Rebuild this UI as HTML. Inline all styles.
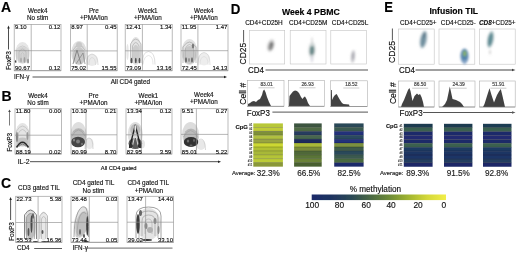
<!DOCTYPE html>
<html><head><meta charset="utf-8"><style>
html,body{margin:0;padding:0;background:#fff;width:520px;height:255px;overflow:hidden}
svg{display:block}
svg text{font-family:"Liberation Sans", sans-serif;stroke:#222;stroke-width:0.15px;paint-order:stroke}
</style></head><body>
<svg width="520" height="255" viewBox="0 0 520 255">
<rect width="520" height="255" fill="#fff"/>
<defs><filter id="gb" x="0" y="0" width="100%" height="100%"><feGaussianBlur stdDeviation="0.35"/></filter></defs><g filter="url(#gb)"><defs><filter id="bl" x="-50%" y="-50%" width="200%" height="200%"><feGaussianBlur stdDeviation="0.45"/></filter><filter id="bl2" x="-50%" y="-50%" width="200%" height="200%"><feGaussianBlur stdDeviation="0.9"/></filter><linearGradient id="cbar" x1="0" x2="1" y1="0" y2="0"><stop offset="0" stop-color="#1c2a6a"/><stop offset="0.15" stop-color="#1f3460"/><stop offset="0.3" stop-color="#2c4a55"/><stop offset="0.45" stop-color="#4d6b42"/><stop offset="0.58" stop-color="#6e8c38"/><stop offset="0.72" stop-color="#a0b430"/><stop offset="0.86" stop-color="#d4d83a"/><stop offset="1" stop-color="#f2ee48"/></linearGradient></defs>
<text x="1" y="12.3" font-size="14" text-anchor="start" font-weight="bold" fill="#000"  >A</text>
<text x="37.7" y="12.6" font-size="6.3" text-anchor="middle" font-weight="normal" fill="#111"  >Week4</text>
<text x="37.7" y="19.9" font-size="6.3" text-anchor="middle" font-weight="normal" fill="#111"  >No stim</text>
<text x="93.8" y="12.6" font-size="6.3" text-anchor="middle" font-weight="normal" fill="#111"  >Pre</text>
<text x="93.8" y="19.9" font-size="6.3" text-anchor="middle" font-weight="normal" fill="#111"  >+PMA/Ion</text>
<text x="147.8" y="12.6" font-size="6.3" text-anchor="middle" font-weight="normal" fill="#111"  >Week1</text>
<text x="147.8" y="19.9" font-size="6.3" text-anchor="middle" font-weight="normal" fill="#111"  >+PMA/Ion</text>
<text x="203.8" y="12.6" font-size="6.3" text-anchor="middle" font-weight="normal" fill="#111"  >Week4</text>
<text x="203.8" y="19.9" font-size="6.3" text-anchor="middle" font-weight="normal" fill="#111"  >+PMA/Ion</text>
<g filter="url(#bl)"><ellipse cx="22.5" cy="53" rx="7.3" ry="11" fill="#e6e6e6" opacity="1" transform="rotate(0 22.5 53)"/><ellipse cx="22.5" cy="55" rx="6" ry="8" fill="#d4d4d4" opacity="1" transform="rotate(0 22.5 55)"/><path d="M16.5,63 L16.5,50 Q22.5,42 28.5,50 L28.5,63" fill="none" stroke="#bcbcbc" stroke-width="0.6"/><path d="M19,63 L19,52 Q22.5,46 26,52 L26,63" fill="none" stroke="#b4b4b4" stroke-width="0.6"/><path d="M21,63 L21,54 Q22.5,51 24,54 L24,63" fill="none" stroke="#bbb" stroke-width="0.5"/><ellipse cx="24.5" cy="60" rx="0.9" ry="3" fill="#a0a0a0" opacity="1" transform="rotate(0 24.5 60)"/><ellipse cx="28" cy="61" rx="0.9" ry="2.5" fill="#8e8e8e" opacity="1" transform="rotate(0 28 61)"/><ellipse cx="21" cy="60" rx="0.8" ry="2.5" fill="#a8a8a8" opacity="1" transform="rotate(0 21 60)"/><ellipse cx="15.5" cy="61.5" rx="0.7" ry="1.2" fill="#444" opacity="1" transform="rotate(0 15.5 61.5)"/></g>
<rect x="14.2" y="24.4" width="46.8" height="46.300000000000004" fill="none" stroke="#a4a4a4" stroke-width="0.75"/>
<line x1="14.2" y1="70.7" x2="61" y2="70.7" stroke="#888" stroke-width="0.6"/>
<line x1="31.2" y1="24.4" x2="31.2" y2="70.7" stroke="#909090" stroke-width="0.65"/>
<line x1="14.2" y1="50.7" x2="61" y2="50.7" stroke="#909090" stroke-width="0.65"/>
<text x="15.0" y="28.799999999999997" font-size="6.0" text-anchor="start" font-weight="normal" fill="#111"  >9.10</text>
<text x="60.4" y="28.799999999999997" font-size="6.0" text-anchor="end" font-weight="normal" fill="#111"  >0.12</text>
<text x="15.0" y="70.3" font-size="6.0" text-anchor="start" font-weight="normal" fill="#111"  >90.67</text>
<text x="60.4" y="70.3" font-size="6.0" text-anchor="end" font-weight="normal" fill="#111"  >0.12</text>
<g filter="url(#bl)"><ellipse cx="92" cy="60" rx="6" ry="6" fill="#eaeaea" opacity="1" transform="rotate(0 92 60)"/><path d="M87,65 Q86,55 92,54 Q98,55 98,65" fill="none" stroke="#c8c8c8" stroke-width="0.6"/><path d="M89,65 Q89,58 92,57.5 Q95.5,58 95.5,65" fill="none" stroke="#cdcdcd" stroke-width="0.5"/><ellipse cx="79" cy="53" rx="7.8" ry="12" fill="#e0e0e0" opacity="1" transform="rotate(0 79 53)"/><ellipse cx="79" cy="56" rx="6.5" ry="8.5" fill="#c8c8c8" opacity="1" transform="rotate(0 79 56)"/><path d="M73,64 L77,50 L81,64" fill="none" stroke="#727272" stroke-width="0.8"/><path d="M76,64 L83,53 L85,64" fill="none" stroke="#828282" stroke-width="0.7"/><path d="M73,50 Q79,41 85,50" fill="none" stroke="#b0b0b0" stroke-width="0.7"/><path d="M74.5,47 Q79,43 83.5,47" fill="none" stroke="#bbb" stroke-width="0.6"/><ellipse cx="79" cy="45" rx="3" ry="3" fill="#c8c8c8" opacity="1" transform="rotate(0 79 45)"/></g>
<rect x="70.4" y="24.4" width="46.8" height="46.300000000000004" fill="none" stroke="#a4a4a4" stroke-width="0.75"/>
<line x1="70.4" y1="70.7" x2="117.2" y2="70.7" stroke="#888" stroke-width="0.6"/>
<line x1="87.2" y1="24.4" x2="87.2" y2="70.7" stroke="#909090" stroke-width="0.65"/>
<line x1="70.4" y1="50.9" x2="117.2" y2="50.9" stroke="#909090" stroke-width="0.65"/>
<text x="71.2" y="28.799999999999997" font-size="6.0" text-anchor="start" font-weight="normal" fill="#111"  >8.97</text>
<text x="116.60000000000001" y="28.799999999999997" font-size="6.0" text-anchor="end" font-weight="normal" fill="#111"  >0.45</text>
<text x="71.2" y="70.3" font-size="6.0" text-anchor="start" font-weight="normal" fill="#111"  >75.02</text>
<text x="116.60000000000001" y="70.3" font-size="6.0" text-anchor="end" font-weight="normal" fill="#111"  >15.55</text>
<g filter="url(#bl)"><path d="M142.5,64.5 Q142,52 148.5,51.5 Q155,52 155,64.5" fill="none" stroke="#c8c8c8" stroke-width="0.6"/><path d="M143,64.5 Q144,56 148.5,55.5 Q153,56 153,64.5" fill="none" stroke="#cecece" stroke-width="0.5"/><ellipse cx="135.8" cy="51" rx="5.8" ry="14" fill="#e4e4e4" opacity="1" transform="rotate(0 135.8 51)"/><path d="M130.5,63 L130.5,44 Q135.8,34 141,44 L141,63" fill="none" stroke="#acacac" stroke-width="0.7"/><path d="M132.5,63 L132.5,46 Q135.8,39 139,46 L139,63" fill="none" stroke="#a8a8a8" stroke-width="0.6"/><path d="M134.3,63 L134.3,48 Q135.8,44 137.3,48 L137.3,63" fill="none" stroke="#b0b0b0" stroke-width="0.5"/><ellipse cx="135.8" cy="53" rx="3.5" ry="8" fill="#cccccc" opacity="1" transform="rotate(0 135.8 53)"/><ellipse cx="131.5" cy="60.5" rx="0.9" ry="2.8" fill="#505050" opacity="1" transform="rotate(0 131.5 60.5)"/><ellipse cx="135.8" cy="60.5" rx="0.9" ry="2.8" fill="#505050" opacity="1" transform="rotate(0 135.8 60.5)"/><ellipse cx="139.5" cy="60.5" rx="0.9" ry="2.8" fill="#555" opacity="1" transform="rotate(0 139.5 60.5)"/><ellipse cx="127.5" cy="52" rx="1.2" ry="8" fill="#e6e6e6" opacity="1" transform="rotate(0 127.5 52)"/></g>
<rect x="125.2" y="24.4" width="46.999999999999986" height="46.300000000000004" fill="none" stroke="#a4a4a4" stroke-width="0.75"/>
<line x1="125.2" y1="70.7" x2="172.2" y2="70.7" stroke="#888" stroke-width="0.6"/>
<line x1="142.4" y1="24.4" x2="142.4" y2="70.7" stroke="#909090" stroke-width="0.65"/>
<line x1="125.2" y1="50.8" x2="172.2" y2="50.8" stroke="#909090" stroke-width="0.65"/>
<text x="126.0" y="28.799999999999997" font-size="6.0" text-anchor="start" font-weight="normal" fill="#111"  >12.41</text>
<text x="171.6" y="28.799999999999997" font-size="6.0" text-anchor="end" font-weight="normal" fill="#111"  >1.34</text>
<text x="126.0" y="70.3" font-size="6.0" text-anchor="start" font-weight="normal" fill="#111"  >73.09</text>
<text x="171.6" y="70.3" font-size="6.0" text-anchor="end" font-weight="normal" fill="#111"  >13.16</text>
<g filter="url(#bl)"><ellipse cx="204" cy="59" rx="6" ry="6.5" fill="#ededed" opacity="1" transform="rotate(0 204 59)"/><path d="M198,65 Q198,53 204,52.5 Q210,53 210,65" fill="none" stroke="#cfcfcf" stroke-width="0.6"/><path d="M200,65 Q200,57 204,56.5 Q208,57 208,65" fill="none" stroke="#d4d4d4" stroke-width="0.5"/><ellipse cx="189.5" cy="52" rx="8" ry="13" fill="#e2e2e2" opacity="1" transform="rotate(0 189.5 52)"/><ellipse cx="189.5" cy="55" rx="6.5" ry="9" fill="#c8c8c8" opacity="1" transform="rotate(0 189.5 55)"/><path d="M183,63 L183,47 Q189.5,37 196,47 L196,63" fill="none" stroke="#a8a8a8" stroke-width="0.7"/><path d="M185.5,63 L185.5,48 Q189.5,41 193.5,48 L193.5,63" fill="none" stroke="#acacac" stroke-width="0.6"/><ellipse cx="193" cy="46" rx="1.2" ry="2.5" fill="#7a7a7a" opacity="1" transform="rotate(0 193 46)"/><ellipse cx="186" cy="60" rx="1" ry="2.8" fill="#6a6a6a" opacity="1" transform="rotate(0 186 60)"/><ellipse cx="192" cy="60" rx="1" ry="2.8" fill="#6e6e6e" opacity="1" transform="rotate(0 192 60)"/><ellipse cx="189" cy="60" rx="0.8" ry="2" fill="#8a8a8a" opacity="1" transform="rotate(0 189 60)"/></g>
<rect x="181" y="24.4" width="47" height="46.300000000000004" fill="none" stroke="#a4a4a4" stroke-width="0.75"/>
<line x1="181" y1="70.7" x2="228" y2="70.7" stroke="#888" stroke-width="0.6"/>
<line x1="197.9" y1="24.4" x2="197.9" y2="70.7" stroke="#909090" stroke-width="0.65"/>
<line x1="181" y1="50.7" x2="228" y2="50.7" stroke="#909090" stroke-width="0.65"/>
<text x="181.8" y="28.799999999999997" font-size="6.0" text-anchor="start" font-weight="normal" fill="#111"  >11.95</text>
<text x="227.4" y="28.799999999999997" font-size="6.0" text-anchor="end" font-weight="normal" fill="#111"  >1.47</text>
<text x="181.8" y="70.3" font-size="6.0" text-anchor="start" font-weight="normal" fill="#111"  >72.45</text>
<text x="227.4" y="70.3" font-size="6.0" text-anchor="end" font-weight="normal" fill="#111"  >14.13</text>
<line x1="8.5" y1="28.0" x2="8.5" y2="49.5" stroke="#222" stroke-width="0.8"/>
<path d="M8.5,25.5 L7.2,28.5 L9.8,28.5 Z" fill="#222"/>
<text transform="translate(8.8,60.5) rotate(-90) scale(1,1.0)" x="0" y="0" font-size="6.5" text-anchor="middle" dominant-baseline="central" font-weight="normal" fill="#111">FoxP3</text>
<text x="14" y="79" font-size="6.3" text-anchor="start" font-weight="normal" fill="#111"  >IFN-γ</text>
<line x1="32.5" y1="77" x2="224.5" y2="77" stroke="#222" stroke-width="0.8"/>
<path d="M227,77 L224,75.7 L224,78.3 Z" fill="#222"/>
<text x="110.8" y="83.9" font-size="6.35" text-anchor="start" font-weight="normal" fill="#111"  >All CD4 gated</text>
<text x="1.4" y="100.6" font-size="14" text-anchor="start" font-weight="bold" fill="#000"  >B</text>
<text x="38" y="97.8" font-size="6.3" text-anchor="middle" font-weight="normal" fill="#111"  >Week4</text>
<text x="38" y="104.6" font-size="6.3" text-anchor="middle" font-weight="normal" fill="#111"  >No stim</text>
<text x="93.5" y="97.8" font-size="6.3" text-anchor="middle" font-weight="normal" fill="#111"  >Pre</text>
<text x="93.5" y="104.6" font-size="6.3" text-anchor="middle" font-weight="normal" fill="#111"  >+PMA/Ion</text>
<text x="148.3" y="97.8" font-size="6.3" text-anchor="middle" font-weight="normal" fill="#111"  >Week1</text>
<text x="148.3" y="104.6" font-size="6.3" text-anchor="middle" font-weight="normal" fill="#111"  >+PMA/Ion</text>
<text x="203.8" y="97.3" font-size="6.3" text-anchor="middle" font-weight="normal" fill="#111"  >Week4</text>
<text x="203.8" y="104.1" font-size="6.3" text-anchor="middle" font-weight="normal" fill="#111"  >+PMA/Ion</text>
<g filter="url(#bl)"><ellipse cx="22.5" cy="134.5" rx="7" ry="11.5" fill="#e4e4e4" opacity="1" transform="rotate(0 22.5 134.5)"/><path d="M16.5,146 L16.5,131 Q22.5,121 28.5,131 L28.5,146" fill="none" stroke="#bdbdbd" stroke-width="0.7"/><path d="M18.5,146 L18.5,133 Q22.5,126 26.5,133 L26.5,146" fill="none" stroke="#b4b4b4" stroke-width="0.6"/><ellipse cx="22.5" cy="142" rx="6" ry="4.5" fill="#c4c4c4" opacity="1" transform="rotate(0 22.5 142)"/><path d="M16.5,147.5 Q22.5,137 28.5,147.5" fill="none" stroke="#2a2a2a" stroke-width="1.6"/><path d="M18.5,147 Q22.5,141 26.5,147" fill="none" stroke="#666" stroke-width="0.8"/><ellipse cx="17" cy="137" rx="0.9" ry="5" fill="#7a7a7a" opacity="1" transform="rotate(0 17 137)"/><ellipse cx="27.5" cy="136" rx="0.8" ry="4" fill="#999" opacity="1" transform="rotate(0 27.5 136)"/></g>
<rect x="15" y="108.7" width="46.4" height="45.3" fill="none" stroke="#a4a4a4" stroke-width="0.75"/>
<line x1="15" y1="154" x2="61.4" y2="154" stroke="#888" stroke-width="0.6"/>
<line x1="29.8" y1="108.7" x2="29.8" y2="154" stroke="#909090" stroke-width="0.65"/>
<line x1="15" y1="135.2" x2="61.4" y2="135.2" stroke="#909090" stroke-width="0.65"/>
<text x="15.8" y="113.10000000000001" font-size="6.0" text-anchor="start" font-weight="normal" fill="#111"  >11.80</text>
<text x="60.8" y="113.10000000000001" font-size="6.0" text-anchor="end" font-weight="normal" fill="#111"  >0.00</text>
<text x="15.8" y="153.6" font-size="6.0" text-anchor="start" font-weight="normal" fill="#111"  >88.19</text>
<text x="60.8" y="153.6" font-size="6.0" text-anchor="end" font-weight="normal" fill="#111"  >0.02</text>
<g filter="url(#bl)"><ellipse cx="89.5" cy="143.5" rx="4" ry="5.5" fill="#eaeaea" opacity="1" transform="rotate(0 89.5 143.5)"/><path d="M85,149 Q85,138 89,138 Q93,138 93,149" fill="none" stroke="#c4c4c4" stroke-width="0.7"/><ellipse cx="78.5" cy="134.5" rx="8" ry="12.5" fill="#dedede" opacity="1" transform="rotate(0 78.5 134.5)"/><ellipse cx="78.5" cy="137" rx="7.5" ry="9" fill="#bdbdbd" opacity="1" transform="rotate(0 78.5 137)"/><path d="M72,136 Q78.5,124 85,136" fill="none" stroke="#a0a0a0" stroke-width="0.7"/><path d="M73,132 Q78.5,127 84,132" fill="none" stroke="#aaa" stroke-width="0.6"/><ellipse cx="78" cy="142" rx="7" ry="5.2" fill="#444" opacity="1" transform="rotate(0 78 142)"/><ellipse cx="78" cy="141.5" rx="2" ry="2" fill="#808080" opacity="1" transform="rotate(0 78 141.5)"/><ellipse cx="74" cy="140" rx="1" ry="1.5" fill="#8a8a8a" opacity="1" transform="rotate(0 74 140)"/><ellipse cx="82" cy="144" rx="1" ry="1.2" fill="#777" opacity="1" transform="rotate(0 82 144)"/></g>
<rect x="71" y="108.7" width="46" height="45.3" fill="none" stroke="#a4a4a4" stroke-width="0.75"/>
<line x1="71" y1="154" x2="117" y2="154" stroke="#888" stroke-width="0.6"/>
<line x1="86" y1="108.7" x2="86" y2="154" stroke="#909090" stroke-width="0.65"/>
<line x1="71" y1="134.8" x2="117" y2="134.8" stroke="#909090" stroke-width="0.65"/>
<text x="71.8" y="113.10000000000001" font-size="6.0" text-anchor="start" font-weight="normal" fill="#111"  >10.10</text>
<text x="116.4" y="113.10000000000001" font-size="6.0" text-anchor="end" font-weight="normal" fill="#111"  >0.21</text>
<text x="71.8" y="153.6" font-size="6.0" text-anchor="start" font-weight="normal" fill="#111"  >80.99</text>
<text x="116.4" y="153.6" font-size="6.0" text-anchor="end" font-weight="normal" fill="#111"  >8.70</text>
<g filter="url(#bl)"><ellipse cx="135.3" cy="134" rx="7.5" ry="12" fill="#dedede" opacity="1" transform="rotate(0 135.3 134)"/><ellipse cx="141.5" cy="144" rx="3.5" ry="4.5" fill="#e6e6e6" opacity="1" transform="rotate(0 141.5 144)"/><ellipse cx="135.3" cy="130" rx="5" ry="6" fill="#bcbcbc" opacity="1" transform="rotate(0 135.3 130)"/><ellipse cx="135.3" cy="143.5" rx="6.8" ry="5.5" fill="#5a5a5a" opacity="1" transform="rotate(0 135.3 143.5)"/><path d="M129.5,148 L135.3,125 L141,148" fill="none" stroke="#222" stroke-width="1.3"/><path d="M132,148 L135.3,133 L138.6,148" fill="none" stroke="#d8d8d8" stroke-width="1.0"/><ellipse cx="131" cy="146" rx="2" ry="2" fill="#2e2e2e" opacity="1" transform="rotate(0 131 146)"/><ellipse cx="139.5" cy="146" rx="2" ry="2" fill="#2e2e2e" opacity="1" transform="rotate(0 139.5 146)"/><ellipse cx="135.3" cy="128" rx="1" ry="3" fill="#e8e8e8" opacity="1" transform="rotate(0 135.3 128)"/></g>
<rect x="126" y="108.7" width="46" height="45.3" fill="none" stroke="#a4a4a4" stroke-width="0.75"/>
<line x1="126" y1="154" x2="172" y2="154" stroke="#888" stroke-width="0.6"/>
<line x1="141.4" y1="108.7" x2="141.4" y2="154" stroke="#909090" stroke-width="0.65"/>
<line x1="126" y1="134.8" x2="172" y2="134.8" stroke="#909090" stroke-width="0.65"/>
<text x="126.8" y="113.10000000000001" font-size="6.0" text-anchor="start" font-weight="normal" fill="#111"  >13.34</text>
<text x="171.4" y="113.10000000000001" font-size="6.0" text-anchor="end" font-weight="normal" fill="#111"  >0.12</text>
<text x="126.8" y="153.6" font-size="6.0" text-anchor="start" font-weight="normal" fill="#111"  >82.95</text>
<text x="171.4" y="153.6" font-size="6.0" text-anchor="end" font-weight="normal" fill="#111"  >3.59</text>
<g filter="url(#bl)"><ellipse cx="201" cy="145" rx="4.5" ry="5" fill="#e8e8e8" opacity="1" transform="rotate(0 201 145)"/><path d="M196.5,150 Q197,139 201,139 Q205,139 205.5,150" fill="none" stroke="#c8c8c8" stroke-width="0.7"/><ellipse cx="190.5" cy="134.5" rx="8.5" ry="12.5" fill="#dcdcdc" opacity="1" transform="rotate(0 190.5 134.5)"/><ellipse cx="191" cy="137.5" rx="7.5" ry="9" fill="#bcbcbc" opacity="1" transform="rotate(0 191 137.5)"/><path d="M183.5,137 Q190.5,124 197.5,137" fill="none" stroke="#a4a4a4" stroke-width="0.7"/><path d="M185,132 Q190.5,127 196,132" fill="none" stroke="#b0b0b0" stroke-width="0.6"/><ellipse cx="191" cy="142" rx="7.2" ry="5" fill="#333" opacity="1" transform="rotate(0 191 142)"/><ellipse cx="188" cy="141" rx="1.2" ry="1.6" fill="#707070" opacity="1" transform="rotate(0 188 141)"/><ellipse cx="194" cy="140.5" rx="1" ry="1.4" fill="#666" opacity="1" transform="rotate(0 194 140.5)"/><ellipse cx="191" cy="145.5" rx="1.5" ry="1" fill="#666" opacity="1" transform="rotate(0 191 145.5)"/></g>
<rect x="181" y="108.7" width="47" height="45.3" fill="none" stroke="#a4a4a4" stroke-width="0.75"/>
<line x1="181" y1="154" x2="228" y2="154" stroke="#888" stroke-width="0.6"/>
<line x1="196.4" y1="108.7" x2="196.4" y2="154" stroke="#909090" stroke-width="0.65"/>
<line x1="181" y1="134.4" x2="228" y2="134.4" stroke="#909090" stroke-width="0.65"/>
<text x="181.8" y="113.10000000000001" font-size="6.0" text-anchor="start" font-weight="normal" fill="#111"  >9.51</text>
<text x="227.4" y="113.10000000000001" font-size="6.0" text-anchor="end" font-weight="normal" fill="#111"  >0.27</text>
<text x="181.8" y="153.6" font-size="6.0" text-anchor="start" font-weight="normal" fill="#111"  >85.01</text>
<text x="227.4" y="153.6" font-size="6.0" text-anchor="end" font-weight="normal" fill="#111"  >5.22</text>
<line x1="9.5" y1="111.5" x2="9.5" y2="125.5" stroke="#444" stroke-width="0.7"/>
<path d="M9.5,109.5 L8.2,112.0 L10.8,112.0 Z" fill="#444"/>
<text transform="translate(9.8,142.3) rotate(-90) scale(1,1.0)" x="0" y="0" font-size="6.5" text-anchor="middle" dominant-baseline="central" font-weight="normal" fill="#111">FoxP3</text>
<text x="17.7" y="164.4" font-size="6.9" text-anchor="start" font-weight="normal" fill="#111"  >IL-2</text>
<line x1="30" y1="161.7" x2="218.5" y2="161.7" stroke="#222" stroke-width="0.8"/>
<path d="M221,161.7 L218,160.39999999999998 L218,163.0 Z" fill="#222"/>
<text x="100.8" y="169.5" font-size="5.8" text-anchor="start" font-weight="normal" fill="#111"  >All CD4 gated</text>
<text x="1" y="187.5" font-size="14" text-anchor="start" font-weight="bold" fill="#000"  >C</text>
<text x="38.9" y="190.2" font-size="6.45" text-anchor="middle" font-weight="normal" fill="#111"  >CD3 gated TIL</text>
<text x="93.5" y="185.3" font-size="6.45" text-anchor="middle" font-weight="normal" fill="#111"  >CD4 gated TIL</text>
<text x="93.5" y="192.9" font-size="6.45" text-anchor="middle" font-weight="normal" fill="#111"  >No stim</text>
<text x="148.3" y="185.3" font-size="6.45" text-anchor="middle" font-weight="normal" fill="#111"  >CD4 gated TIL</text>
<text x="148.9" y="193.1" font-size="6.45" text-anchor="middle" font-weight="normal" fill="#111"  >+PMA/Ion</text>
<g filter="url(#bl)"><ellipse cx="30.5" cy="225" rx="6.5" ry="15.5" fill="#dedede" opacity="1" transform="rotate(0 30.5 225)"/><ellipse cx="30.5" cy="226" rx="5" ry="13" fill="#bdbdbd" opacity="1" transform="rotate(0 30.5 226)"/><path d="M24.5,239 L24.5,215 Q30.5,205 36.5,215 L36.5,239" fill="none" stroke="#6a6a6a" stroke-width="0.8"/><path d="M26.5,239 L26.5,217 Q30.5,210 34.5,217 L34.5,239" fill="none" stroke="#8a8a8a" stroke-width="0.6"/><ellipse cx="31.5" cy="224" rx="1" ry="9" fill="#4a4a4a" opacity="1" transform="rotate(0 31.5 224)"/><ellipse cx="28.5" cy="232" rx="0.9" ry="4" fill="#555" opacity="1" transform="rotate(0 28.5 232)"/><ellipse cx="33" cy="216" rx="1" ry="3" fill="#5a5a5a" opacity="1" transform="rotate(0 33 216)"/><ellipse cx="43.6" cy="226" rx="4.5" ry="14.5" fill="#e8e8e8" opacity="1" transform="rotate(0 43.6 226)"/><path d="M39.8,239 L39.8,216 Q43.6,209 47.5,216 L47.5,239" fill="none" stroke="#a0a0a0" stroke-width="0.7"/><path d="M41.5,239 L41.5,219 Q43.6,214 45.8,219 L45.8,239" fill="none" stroke="#aaaaaa" stroke-width="0.6"/><ellipse cx="42.5" cy="232" rx="1" ry="2" fill="#555" opacity="1" transform="rotate(0 42.5 232)"/><ellipse cx="35.5" cy="241.6" rx="3" ry="0.7" fill="#333" opacity="1" transform="rotate(0 35.5 241.6)"/><ellipse cx="44.5" cy="241.6" rx="3.5" ry="0.7" fill="#333" opacity="1" transform="rotate(0 44.5 241.6)"/></g>
<rect x="15.7" y="196.3" width="46.3" height="46.0" fill="none" stroke="#a4a4a4" stroke-width="0.75"/>
<line x1="15.7" y1="242.3" x2="62" y2="242.3" stroke="#888" stroke-width="0.6"/>
<line x1="38.1" y1="196.3" x2="38.1" y2="242.3" stroke="#909090" stroke-width="0.65"/>
<line x1="15.7" y1="222.5" x2="62" y2="222.5" stroke="#909090" stroke-width="0.65"/>
<text x="16.5" y="200.70000000000002" font-size="6.0" text-anchor="start" font-weight="normal" fill="#111"  >22.73</text>
<text x="61.4" y="200.70000000000002" font-size="6.0" text-anchor="end" font-weight="normal" fill="#111"  >5.38</text>
<text x="16.5" y="241.9" font-size="6.0" text-anchor="start" font-weight="normal" fill="#111"  >55.53</text>
<text x="61.4" y="241.9" font-size="6.0" text-anchor="end" font-weight="normal" fill="#111"  >16.36</text>
<g filter="url(#bl)"><ellipse cx="81.5" cy="222.5" rx="7.5" ry="16" fill="#e2e2e2" opacity="1" transform="rotate(12 81.5 222.5)"/><ellipse cx="82" cy="224" rx="6" ry="13" fill="#c0c0c0" opacity="1" transform="rotate(12 82 224)"/><path d="M74,237 Q74,222 78,212 Q82,204 86,208 Q89,214 88.5,237" fill="none" stroke="#888" stroke-width="0.7"/><path d="M77,237 Q77,224 80,216 Q83,210 86,214" fill="none" stroke="#999" stroke-width="0.6"/><ellipse cx="87.3" cy="226" rx="1.1" ry="10" fill="#3a3a3a" opacity="1" transform="rotate(0 87.3 226)"/><ellipse cx="80" cy="232" rx="1" ry="3" fill="#666" opacity="1" transform="rotate(0 80 232)"/><ellipse cx="84" cy="236" rx="1" ry="2" fill="#555" opacity="1" transform="rotate(0 84 236)"/><ellipse cx="86" cy="241.5" rx="3" ry="0.7" fill="#333" opacity="1" transform="rotate(0 86 241.5)"/></g>
<rect x="71" y="196.3" width="47" height="46.0" fill="none" stroke="#a4a4a4" stroke-width="0.75"/>
<line x1="71" y1="242.3" x2="118" y2="242.3" stroke="#888" stroke-width="0.6"/>
<line x1="89.3" y1="196.3" x2="89.3" y2="242.3" stroke="#909090" stroke-width="0.65"/>
<line x1="71" y1="222.3" x2="118" y2="222.3" stroke="#909090" stroke-width="0.65"/>
<text x="71.8" y="200.70000000000002" font-size="6.0" text-anchor="start" font-weight="normal" fill="#111"  >26.48</text>
<text x="117.4" y="200.70000000000002" font-size="6.0" text-anchor="end" font-weight="normal" fill="#111"  >0.03</text>
<text x="71.8" y="241.9" font-size="6.0" text-anchor="start" font-weight="normal" fill="#111"  >73.44</text>
<text x="117.4" y="241.9" font-size="6.0" text-anchor="end" font-weight="normal" fill="#111"  >0.05</text>
<g filter="url(#bl)"><ellipse cx="148.5" cy="224" rx="12.5" ry="16" fill="#e4e4e4" opacity="1" transform="rotate(0 148.5 224)"/><path d="M136,238 L136,216 Q136,207 148.5,207 Q161,207 161,216 L161,238" fill="none" stroke="#8a8a8a" stroke-width="0.8"/><path d="M139,238 L139,218 Q139,211 148.5,211 Q158,211 158,218 L158,238" fill="none" stroke="#969696" stroke-width="0.7"/><path d="M142,236 L142,221 Q142,215 148.5,215 Q155,215 155,221 L155,236" fill="none" stroke="#a0a0a0" stroke-width="0.7"/><path d="M145,234 L145,224 Q145,219 148.5,219 Q152,219 152,224 L152,234" fill="none" stroke="#aaa" stroke-width="0.6"/><ellipse cx="138" cy="224" rx="1.7" ry="10" fill="#3c3c3c" opacity="1" transform="rotate(0 138 224)"/><ellipse cx="140.5" cy="213" rx="1.5" ry="3" fill="#666" opacity="1" transform="rotate(0 140.5 213)"/><ellipse cx="150" cy="230" rx="3" ry="3" fill="#b0b0b0" opacity="1" transform="rotate(0 150 230)"/><ellipse cx="155" cy="221" rx="1.5" ry="3" fill="#8a8a8a" opacity="1" transform="rotate(0 155 221)"/><ellipse cx="146" cy="226" rx="1.5" ry="3" fill="#8a8a8a" opacity="1" transform="rotate(0 146 226)"/><ellipse cx="158.5" cy="230" rx="1" ry="4" fill="#888" opacity="1" transform="rotate(0 158.5 230)"/><ellipse cx="147" cy="240" rx="5" ry="0.9" fill="#333" opacity="1" transform="rotate(0 147 240)"/></g>
<rect x="127" y="196.3" width="46.599999999999994" height="46.0" fill="none" stroke="#a4a4a4" stroke-width="0.75"/>
<line x1="127" y1="242.3" x2="173.6" y2="242.3" stroke="#888" stroke-width="0.6"/>
<line x1="145.6" y1="196.3" x2="145.6" y2="242.3" stroke="#909090" stroke-width="0.65"/>
<line x1="127" y1="222.2" x2="173.6" y2="222.2" stroke="#909090" stroke-width="0.65"/>
<text x="127.8" y="200.70000000000002" font-size="6.0" text-anchor="start" font-weight="normal" fill="#111"  >13.47</text>
<text x="173.0" y="200.70000000000002" font-size="6.0" text-anchor="end" font-weight="normal" fill="#111"  >14.40</text>
<text x="127.8" y="241.9" font-size="6.0" text-anchor="start" font-weight="normal" fill="#111"  >39.02</text>
<text x="173.0" y="241.9" font-size="6.0" text-anchor="end" font-weight="normal" fill="#111"  >33.10</text>
<line x1="10.6" y1="199.5" x2="10.6" y2="220" stroke="#222" stroke-width="0.8"/>
<path d="M10.6,197 L9.299999999999999,200 L11.9,200 Z" fill="#222"/>
<text transform="translate(11,231.5) rotate(-90) scale(1,1.0)" x="0" y="0" font-size="6.5" text-anchor="middle" dominant-baseline="central" font-weight="normal" fill="#111">FoxP3</text>
<text x="17" y="250.3" font-size="6.3" text-anchor="start" font-weight="normal" fill="#111"  >CD4</text>
<line x1="34.2" y1="248.5" x2="62" y2="248.5" stroke="#333" stroke-width="0.8"/>
<text x="72.5" y="250.3" font-size="6.3" text-anchor="start" font-weight="normal" fill="#111"  >IFN-γ</text>
<line x1="86" y1="248.1" x2="172.5" y2="248.1" stroke="#444" stroke-width="0.8"/>
<text transform="translate(230.8,13.6) scale(0.95,1.03)" font-size="14" font-weight="bold" fill="#000">D</text>
<text x="310.8" y="14.6" font-size="8.7" text-anchor="middle" font-weight="bold" fill="#000"  >Week 4 PBMC</text>
<text x="264" y="24.6" font-size="6.4" text-anchor="middle" font-weight="normal" fill="#111"  >CD4+CD25H</text>
<text x="308.2" y="24.6" font-size="6.4" text-anchor="middle" font-weight="normal" fill="#111"  >CD4+CD25M</text>
<text x="350" y="24.6" font-size="6.4" text-anchor="middle" font-weight="normal" fill="#111"  >CD4+CD25L</text>
<rect x="249.3" y="30.3" width="35.39999999999998" height="33.7" fill="none" stroke="#c4c4c4" stroke-width="0.6"/>
<rect x="290.2" y="30.3" width="35.80000000000001" height="33.7" fill="none" stroke="#c4c4c4" stroke-width="0.6"/>
<rect x="330.8" y="30.3" width="35.599999999999966" height="33.7" fill="none" stroke="#c4c4c4" stroke-width="0.6"/>
<g filter="url(#bl2)"><ellipse cx="270.8" cy="45.5" rx="3.6" ry="6.5" fill="#c8c8c8" opacity="0.8" transform="rotate(15 270.8 45.5)"/><ellipse cx="271" cy="46" rx="2.2" ry="4.2" fill="#8a8a8a" opacity="1" transform="rotate(15 271 46)"/><ellipse cx="271.5" cy="44.5" rx="1" ry="2" fill="#707070" opacity="1" transform="rotate(15 271.5 44.5)"/><ellipse cx="312" cy="50" rx="3.5" ry="8" fill="#c4cccc" opacity="0.8" transform="rotate(3 312 50)"/><ellipse cx="312" cy="50.5" rx="2.2" ry="4.5" fill="#6a8a8a" opacity="1" transform="rotate(3 312 50.5)"/><ellipse cx="312" cy="40" rx="1" ry="3" fill="#d0d0d0" opacity="0.7" transform="rotate(0 312 40)"/><ellipse cx="312" cy="59" rx="1.3" ry="3.5" fill="#d0d0dc" opacity="0.7" transform="rotate(0 312 59)"/><ellipse cx="353" cy="56.5" rx="2.2" ry="6.5" fill="#c8c8cc" opacity="0.9" transform="rotate(5 353 56.5)"/><ellipse cx="353" cy="56" rx="1.2" ry="3.5" fill="#acacb4" opacity="1" transform="rotate(5 353 56)"/></g>
<line x1="243.6" y1="30" x2="243.6" y2="42.5" stroke="#444" stroke-width="0.9"/>
<text transform="translate(242.7,53.6) rotate(-90) scale(1,1.12)" x="0" y="0" font-size="8.5" text-anchor="middle" dominant-baseline="central" font-weight="normal" fill="#111">CD25</text>
<text transform="translate(247.9,73.4) scale(1,1.15)" x="0" y="0" font-size="8.0" text-anchor="start" font-weight="normal" fill="#111">CD4</text>
<line x1="265.5" y1="70" x2="368" y2="70" stroke="#555" stroke-width="1"/>
<rect x="247.4" y="80.6" width="36.599999999999994" height="25.700000000000003" fill="none" stroke="#b0b0b0" stroke-width="0.6"/>
<path d="M248.0,106.0 L248.0,104.0 L250.0,103.0 L252.0,101.5 L254.0,101.0 L256.0,102.0 L258.0,100.0 L260.0,99.0 L262.0,95.0 L263.0,91.0 L264.2,89.6 L265.5,92.0 L267.0,97.0 L269.0,102.0 L271.0,106.0 Z" fill="#424242"/>
<line x1="247.4" y1="106.3" x2="284" y2="106.3" stroke="#777" stroke-width="0.6"/>
<text x="266.5" y="86.0" font-size="4.9" text-anchor="middle" font-weight="normal" fill="#444"  >83.01</text>
<line x1="258.5" y1="87.8" x2="274.5" y2="87.8" stroke="#999" stroke-width="0.5"/>
<rect x="288.3" y="80.6" width="36.0" height="25.700000000000003" fill="none" stroke="#b0b0b0" stroke-width="0.6"/>
<path d="M289.0,106.0 L289.5,96.0 L291.0,94.0 L293.0,91.5 L295.0,90.5 L297.0,91.0 L299.0,93.0 L301.0,97.0 L302.5,99.0 L304.0,97.0 L305.0,96.5 L306.5,99.0 L308.0,103.0 L310.0,106.0 Z" fill="#424242"/>
<line x1="288.3" y1="106.3" x2="324.3" y2="106.3" stroke="#777" stroke-width="0.6"/>
<text x="307.5" y="86.0" font-size="4.9" text-anchor="middle" font-weight="normal" fill="#444"  >26.93</text>
<line x1="299.5" y1="87.8" x2="315.5" y2="87.8" stroke="#999" stroke-width="0.5"/>
<rect x="330.4" y="80.8" width="36.900000000000034" height="25.700000000000003" fill="none" stroke="#b0b0b0" stroke-width="0.6"/>
<path d="M331.0,106.5 L331.0,90.0 L331.8,90.0 L332.2,100.0 L333.5,97.0 L335.0,95.0 L336.7,94.0 L338.0,96.5 L340.0,100.0 L342.0,103.0 L343.5,104.0 L349.0,104.5 L349.6,106.5 Z" fill="#424242"/>
<line x1="330.4" y1="106.5" x2="367.3" y2="106.5" stroke="#777" stroke-width="0.6"/>
<text x="351.3" y="86.2" font-size="4.9" text-anchor="middle" font-weight="normal" fill="#444"  >18.52</text>
<line x1="343.3" y1="88.0" x2="359.3" y2="88.0" stroke="#999" stroke-width="0.5"/>
<text transform="translate(242.4,93.8) rotate(-90) scale(1,1.12)" x="0" y="0" font-size="8.6" text-anchor="middle" dominant-baseline="central" font-weight="normal" fill="#111">Cell #</text>
<text transform="translate(246.8,115.6) scale(1,1.15)" x="0" y="0" font-size="8.0" text-anchor="start" font-weight="normal" fill="#111">FoxP3</text>
<line x1="272.4" y1="112.1" x2="368" y2="112.1" stroke="#555" stroke-width="1"/>
<rect x="253.3" y="123.40" width="29.6" height="3.98" fill="#b8c838"/>
<rect x="253.3" y="127.33" width="29.6" height="3.98" fill="#c0cc38"/>
<rect x="253.3" y="131.25" width="29.6" height="3.98" fill="#7e9038"/>
<rect x="253.3" y="135.18" width="29.6" height="3.98" fill="#b0c040"/>
<rect x="253.3" y="139.11" width="29.6" height="3.98" fill="#98a440"/>
<rect x="253.3" y="143.04" width="29.6" height="3.98" fill="#ccd830"/>
<rect x="253.3" y="146.96" width="29.6" height="3.98" fill="#b0c030"/>
<rect x="253.3" y="150.89" width="29.6" height="3.98" fill="#a8b838"/>
<rect x="253.3" y="154.82" width="29.6" height="3.98" fill="#b4c438"/>
<rect x="253.3" y="158.75" width="29.6" height="3.98" fill="#bccc38"/>
<rect x="253.3" y="162.67" width="29.6" height="3.98" fill="#8a9838"/>
<rect x="253.3" y="126.98" width="29.6" height="0.7" fill="#000" opacity="0.28"/>
<rect x="253.3" y="130.90" width="29.6" height="0.7" fill="#000" opacity="0.28"/>
<rect x="253.3" y="134.83" width="29.6" height="0.7" fill="#000" opacity="0.28"/>
<rect x="253.3" y="138.76" width="29.6" height="0.7" fill="#000" opacity="0.28"/>
<rect x="253.3" y="142.69" width="29.6" height="0.7" fill="#000" opacity="0.28"/>
<rect x="253.3" y="146.61" width="29.6" height="0.7" fill="#000" opacity="0.28"/>
<rect x="253.3" y="150.54" width="29.6" height="0.7" fill="#000" opacity="0.28"/>
<rect x="253.3" y="154.47" width="29.6" height="0.7" fill="#000" opacity="0.28"/>
<rect x="253.3" y="158.40" width="29.6" height="0.7" fill="#000" opacity="0.28"/>
<rect x="253.3" y="162.32" width="29.6" height="0.7" fill="#000" opacity="0.28"/>
<rect x="294.1" y="123.40" width="27.6" height="3.98" fill="#3c5440"/>
<rect x="294.1" y="127.33" width="27.6" height="3.98" fill="#4f6b45"/>
<rect x="294.1" y="131.25" width="27.6" height="3.98" fill="#283c5e"/>
<rect x="294.1" y="135.18" width="27.6" height="3.98" fill="#466650"/>
<rect x="294.1" y="139.11" width="27.6" height="3.98" fill="#1e2b5c"/>
<rect x="294.1" y="143.04" width="27.6" height="3.98" fill="#a8b838"/>
<rect x="294.1" y="146.96" width="27.6" height="3.98" fill="#788a38"/>
<rect x="294.1" y="150.89" width="27.6" height="3.98" fill="#506838"/>
<rect x="294.1" y="154.82" width="27.6" height="3.98" fill="#5a7438"/>
<rect x="294.1" y="158.75" width="27.6" height="3.98" fill="#6a8238"/>
<rect x="294.1" y="162.67" width="27.6" height="3.98" fill="#4a6030"/>
<rect x="294.1" y="126.98" width="27.6" height="0.7" fill="#000" opacity="0.28"/>
<rect x="294.1" y="130.90" width="27.6" height="0.7" fill="#000" opacity="0.28"/>
<rect x="294.1" y="134.83" width="27.6" height="0.7" fill="#000" opacity="0.28"/>
<rect x="294.1" y="138.76" width="27.6" height="0.7" fill="#000" opacity="0.28"/>
<rect x="294.1" y="142.69" width="27.6" height="0.7" fill="#000" opacity="0.28"/>
<rect x="294.1" y="146.61" width="27.6" height="0.7" fill="#000" opacity="0.28"/>
<rect x="294.1" y="150.54" width="27.6" height="0.7" fill="#000" opacity="0.28"/>
<rect x="294.1" y="154.47" width="27.6" height="0.7" fill="#000" opacity="0.28"/>
<rect x="294.1" y="158.40" width="27.6" height="0.7" fill="#000" opacity="0.28"/>
<rect x="294.1" y="162.32" width="27.6" height="0.7" fill="#000" opacity="0.28"/>
<rect x="334.2" y="123.40" width="29.4" height="3.98" fill="#2c4858"/>
<rect x="334.2" y="127.33" width="29.4" height="3.98" fill="#3a5a50"/>
<rect x="334.2" y="131.25" width="29.4" height="3.98" fill="#22307a"/>
<rect x="334.2" y="135.18" width="29.4" height="3.98" fill="#2a4a60"/>
<rect x="334.2" y="139.11" width="29.4" height="3.98" fill="#22307a"/>
<rect x="334.2" y="143.04" width="29.4" height="3.98" fill="#7a9040"/>
<rect x="334.2" y="146.96" width="29.4" height="3.98" fill="#3e5a48"/>
<rect x="334.2" y="150.89" width="29.4" height="3.98" fill="#2a4a5a"/>
<rect x="334.2" y="154.82" width="29.4" height="3.98" fill="#3a5a50"/>
<rect x="334.2" y="158.75" width="29.4" height="3.98" fill="#4a6a40"/>
<rect x="334.2" y="162.67" width="29.4" height="3.98" fill="#1e2a6a"/>
<rect x="334.2" y="126.98" width="29.4" height="0.7" fill="#000" opacity="0.28"/>
<rect x="334.2" y="130.90" width="29.4" height="0.7" fill="#000" opacity="0.28"/>
<rect x="334.2" y="134.83" width="29.4" height="0.7" fill="#000" opacity="0.28"/>
<rect x="334.2" y="138.76" width="29.4" height="0.7" fill="#000" opacity="0.28"/>
<rect x="334.2" y="142.69" width="29.4" height="0.7" fill="#000" opacity="0.28"/>
<rect x="334.2" y="146.61" width="29.4" height="0.7" fill="#000" opacity="0.28"/>
<rect x="334.2" y="150.54" width="29.4" height="0.7" fill="#000" opacity="0.28"/>
<rect x="334.2" y="154.47" width="29.4" height="0.7" fill="#000" opacity="0.28"/>
<rect x="334.2" y="158.40" width="29.4" height="0.7" fill="#000" opacity="0.28"/>
<rect x="334.2" y="162.32" width="29.4" height="0.7" fill="#000" opacity="0.28"/>
<text x="252.3" y="126.34545454545456" font-size="2.8" text-anchor="end" font-weight="bold" fill="#1a1a1a"  style="stroke:none">#1</text>
<text x="252.3" y="130.27272727272728" font-size="2.8" text-anchor="end" font-weight="bold" fill="#1a1a1a"  style="stroke:none">#2</text>
<text x="252.3" y="134.2" font-size="2.8" text-anchor="end" font-weight="bold" fill="#1a1a1a"  style="stroke:none">#3</text>
<text x="252.3" y="138.12727272727273" font-size="2.8" text-anchor="end" font-weight="bold" fill="#1a1a1a"  style="stroke:none">#4</text>
<text x="252.3" y="142.05454545454546" font-size="2.8" text-anchor="end" font-weight="bold" fill="#1a1a1a"  style="stroke:none">#5</text>
<text x="252.3" y="145.9818181818182" font-size="2.8" text-anchor="end" font-weight="bold" fill="#1a1a1a"  style="stroke:none">#6</text>
<text x="252.3" y="149.9090909090909" font-size="2.8" text-anchor="end" font-weight="bold" fill="#1a1a1a"  style="stroke:none">#7</text>
<text x="252.3" y="153.83636363636364" font-size="2.8" text-anchor="end" font-weight="bold" fill="#1a1a1a"  style="stroke:none">#8</text>
<text x="252.3" y="157.76363636363635" font-size="2.8" text-anchor="end" font-weight="bold" fill="#1a1a1a"  style="stroke:none">#9</text>
<text x="252.3" y="161.6909090909091" font-size="2.8" text-anchor="end" font-weight="bold" fill="#1a1a1a"  style="stroke:none">#10</text>
<text x="252.3" y="165.61818181818182" font-size="2.8" text-anchor="end" font-weight="bold" fill="#1a1a1a"  style="stroke:none">#11</text>
<text x="235.5" y="128.8" font-size="5.9" text-anchor="start" font-weight="bold" fill="#111"  >CpG</text>
<text x="232" y="175.3" font-size="5.9" text-anchor="start" font-weight="normal" fill="#222"  >Average:</text>
<text x="268.3" y="176.4" font-size="8.2" text-anchor="middle" font-weight="normal" fill="#222"  >32.3%</text>
<text x="308.8" y="176.4" font-size="8.2" text-anchor="middle" font-weight="normal" fill="#222"  >66.5%</text>
<text x="349" y="176.4" font-size="8.2" text-anchor="middle" font-weight="normal" fill="#222"  >82.5%</text>
<text transform="translate(384.2,12.1) scale(0.93,1)" font-size="14" font-weight="bold" fill="#000">E</text>
<text x="453.75" y="14.3" font-size="8.6" text-anchor="middle" font-weight="bold" fill="#000"  >Infusion TIL</text>
<text x="418.3" y="24.6" font-size="6.4" text-anchor="middle" font-weight="normal" fill="#111"  >CD4+CD25+</text>
<text x="458.3" y="24.6" font-size="6.4" text-anchor="middle" font-weight="normal" fill="#111"  >CD4+CD25-</text>
<text x="497.3" y="24.6" font-size="6.4" text-anchor="middle" fill="#111"><tspan font-weight="bold" font-style="italic">CD8</tspan>+CD25+</text>
<rect x="398.6" y="29" width="35.599999999999966" height="35.2" fill="none" stroke="#c4c4c4" stroke-width="0.6"/>
<rect x="439" y="29" width="35.80000000000001" height="35.2" fill="none" stroke="#c4c4c4" stroke-width="0.6"/>
<rect x="479.6" y="29" width="35.60000000000002" height="35.2" fill="none" stroke="#c4c4c4" stroke-width="0.6"/>
<g filter="url(#bl2)"><ellipse cx="423.5" cy="39.5" rx="3.8" ry="9.2" fill="#b4c4cc" opacity="0.9" transform="rotate(10 423.5 39.5)"/><ellipse cx="423.3" cy="40" rx="2.4" ry="7.2" fill="#6f8f9f" opacity="1" transform="rotate(10 423.3 40)"/><ellipse cx="424.5" cy="35" rx="1.2" ry="3" fill="#5a7888" opacity="1" transform="rotate(10 424.5 35)"/><ellipse cx="464.5" cy="56" rx="4.2" ry="7.6" fill="#7c9cc0" opacity="1" transform="rotate(0 464.5 56)"/><ellipse cx="464.5" cy="55" rx="3" ry="5.5" fill="#4f83ad" opacity="1" transform="rotate(0 464.5 55)"/><ellipse cx="464.7" cy="53.5" rx="1.8" ry="3" fill="#86b070" opacity="1" transform="rotate(0 464.7 53.5)"/><ellipse cx="464.6" cy="62" rx="1.5" ry="2.5" fill="#8aa8c8" opacity="0.8" transform="rotate(0 464.6 62)"/><ellipse cx="490.5" cy="39.5" rx="3.4" ry="8.8" fill="#b0c4c8" opacity="0.9" transform="rotate(10 490.5 39.5)"/><ellipse cx="490.4" cy="39.5" rx="2.2" ry="6.8" fill="#5f8c94" opacity="1" transform="rotate(10 490.4 39.5)"/><ellipse cx="490" cy="52" rx="1" ry="2.5" fill="#c8c8c8" opacity="0.7" transform="rotate(0 490 52)"/></g>
<line x1="392.4" y1="28.5" x2="392.4" y2="40.5" stroke="#444" stroke-width="0.9"/>
<text transform="translate(392.1,52) rotate(-90) scale(1,1.12)" x="0" y="0" font-size="8.6" text-anchor="middle" dominant-baseline="central" font-weight="normal" fill="#111">CD25</text>
<text transform="translate(399,73.4) scale(1,1.15)" x="0" y="0" font-size="8.0" text-anchor="start" font-weight="normal" fill="#111">CD4</text>
<line x1="415.5" y1="70" x2="512.5" y2="70" stroke="#444" stroke-width="1"/>
<path d="M515.5,70 L512.0,68.7 L512.0,71.3 Z" fill="#444"/>
<rect x="398.6" y="81" width="35.599999999999966" height="26" fill="none" stroke="#b0b0b0" stroke-width="0.6"/>
<path d="M401.0,107.0 L402.0,104.0 L404.0,100.0 L406.0,95.0 L408.0,90.0 L409.4,88.0 L410.5,91.0 L411.5,96.0 L412.5,101.0 L414.5,96.0 L417.0,93.5 L418.5,95.0 L420.0,94.0 L421.5,97.0 L423.0,102.0 L424.0,107.0 Z" fill="#424242"/>
<line x1="398.6" y1="107" x2="434.2" y2="107" stroke="#777" stroke-width="0.6"/>
<text x="420.2" y="86.4" font-size="4.9" text-anchor="middle" font-weight="normal" fill="#444"  >86.50</text>
<line x1="412.2" y1="88.2" x2="428.2" y2="88.2" stroke="#999" stroke-width="0.5"/>
<rect x="439" y="81" width="36" height="26" fill="none" stroke="#b0b0b0" stroke-width="0.6"/>
<path d="M442.0,107.0 L445.0,104.0 L447.0,100.0 L448.5,93.0 L449.8,86.5 L451.0,92.0 L452.5,99.0 L456.0,100.0 L460.0,102.0 L462.0,104.0 L464.0,107.0 Z" fill="#424242"/>
<line x1="439" y1="107" x2="475" y2="107" stroke="#777" stroke-width="0.6"/>
<text x="458.7" y="86.4" font-size="4.9" text-anchor="middle" font-weight="normal" fill="#444"  >24.39</text>
<line x1="450.7" y1="88.2" x2="466.7" y2="88.2" stroke="#999" stroke-width="0.5"/>
<rect x="479.6" y="81" width="35.60000000000002" height="26" fill="none" stroke="#b0b0b0" stroke-width="0.6"/>
<path d="M483.0,107.0 L484.5,104.0 L487.0,96.0 L489.5,88.2 L491.5,95.0 L494.0,102.5 L497.0,95.0 L499.0,91.5 L500.8,89.0 L502.5,96.0 L505.0,107.0 Z" fill="#424242"/>
<line x1="479.6" y1="107" x2="515.2" y2="107" stroke="#777" stroke-width="0.6"/>
<text x="498.4" y="86.4" font-size="4.9" text-anchor="middle" font-weight="normal" fill="#444"  >51.91</text>
<line x1="490.4" y1="88.2" x2="506.4" y2="88.2" stroke="#999" stroke-width="0.5"/>
<text transform="translate(392.7,93.1) rotate(-90) scale(1,1.12)" x="0" y="0" font-size="8.6" text-anchor="middle" dominant-baseline="central" font-weight="normal" fill="#111">Cell #</text>
<text transform="translate(399.5,116) scale(1,1.15)" x="0" y="0" font-size="8.0" text-anchor="start" font-weight="normal" fill="#111">FoxP3</text>
<line x1="423" y1="112.5" x2="512.5" y2="112.5" stroke="#555" stroke-width="1"/>
<path d="M515.5,112.5 L512.0,111.2 L512.0,113.8 Z" fill="#555"/>
<rect x="403.8" y="123.80" width="28.8" height="3.95" fill="#1e3a50"/>
<rect x="403.8" y="127.70" width="28.8" height="3.95" fill="#3a6050"/>
<rect x="403.8" y="131.60" width="28.8" height="3.95" fill="#1e2a6a"/>
<rect x="403.8" y="135.50" width="28.8" height="3.95" fill="#202c70"/>
<rect x="403.8" y="139.40" width="28.8" height="3.95" fill="#1e2a68"/>
<rect x="403.8" y="143.30" width="28.8" height="3.95" fill="#3a6050"/>
<rect x="403.8" y="147.20" width="28.8" height="3.95" fill="#1e3a62"/>
<rect x="403.8" y="151.10" width="28.8" height="3.95" fill="#1e3464"/>
<rect x="403.8" y="155.00" width="28.8" height="3.95" fill="#1e3466"/>
<rect x="403.8" y="158.90" width="28.8" height="3.95" fill="#243e60"/>
<rect x="403.8" y="162.80" width="28.8" height="3.95" fill="#1e2868"/>
<rect x="403.8" y="127.35" width="28.8" height="0.7" fill="#000" opacity="0.28"/>
<rect x="403.8" y="131.25" width="28.8" height="0.7" fill="#000" opacity="0.28"/>
<rect x="403.8" y="135.15" width="28.8" height="0.7" fill="#000" opacity="0.28"/>
<rect x="403.8" y="139.05" width="28.8" height="0.7" fill="#000" opacity="0.28"/>
<rect x="403.8" y="142.95" width="28.8" height="0.7" fill="#000" opacity="0.28"/>
<rect x="403.8" y="146.85" width="28.8" height="0.7" fill="#000" opacity="0.28"/>
<rect x="403.8" y="150.75" width="28.8" height="0.7" fill="#000" opacity="0.28"/>
<rect x="403.8" y="154.65" width="28.8" height="0.7" fill="#000" opacity="0.28"/>
<rect x="403.8" y="158.55" width="28.8" height="0.7" fill="#000" opacity="0.28"/>
<rect x="403.8" y="162.45" width="28.8" height="0.7" fill="#000" opacity="0.28"/>
<rect x="444" y="123.80" width="28.4" height="3.95" fill="#1e3a50"/>
<rect x="444" y="127.70" width="28.4" height="3.95" fill="#3a6050"/>
<rect x="444" y="131.60" width="28.4" height="3.95" fill="#1e2a6a"/>
<rect x="444" y="135.50" width="28.4" height="3.95" fill="#202c70"/>
<rect x="444" y="139.40" width="28.4" height="3.95" fill="#1e2a68"/>
<rect x="444" y="143.30" width="28.4" height="3.95" fill="#3a6050"/>
<rect x="444" y="147.20" width="28.4" height="3.95" fill="#1e3a62"/>
<rect x="444" y="151.10" width="28.4" height="3.95" fill="#1e3464"/>
<rect x="444" y="155.00" width="28.4" height="3.95" fill="#1e3466"/>
<rect x="444" y="158.90" width="28.4" height="3.95" fill="#243e60"/>
<rect x="444" y="162.80" width="28.4" height="3.95" fill="#1e2868"/>
<rect x="444" y="127.35" width="28.4" height="0.7" fill="#000" opacity="0.28"/>
<rect x="444" y="131.25" width="28.4" height="0.7" fill="#000" opacity="0.28"/>
<rect x="444" y="135.15" width="28.4" height="0.7" fill="#000" opacity="0.28"/>
<rect x="444" y="139.05" width="28.4" height="0.7" fill="#000" opacity="0.28"/>
<rect x="444" y="142.95" width="28.4" height="0.7" fill="#000" opacity="0.28"/>
<rect x="444" y="146.85" width="28.4" height="0.7" fill="#000" opacity="0.28"/>
<rect x="444" y="150.75" width="28.4" height="0.7" fill="#000" opacity="0.28"/>
<rect x="444" y="154.65" width="28.4" height="0.7" fill="#000" opacity="0.28"/>
<rect x="444" y="158.55" width="28.4" height="0.7" fill="#000" opacity="0.28"/>
<rect x="444" y="162.45" width="28.4" height="0.7" fill="#000" opacity="0.28"/>
<rect x="483" y="123.80" width="28.5" height="3.95" fill="#1e3c52"/>
<rect x="483" y="127.70" width="28.5" height="3.95" fill="#3a6050"/>
<rect x="483" y="131.60" width="28.5" height="3.95" fill="#1e2a6a"/>
<rect x="483" y="135.50" width="28.5" height="3.95" fill="#202c70"/>
<rect x="483" y="139.40" width="28.5" height="3.95" fill="#1e2a68"/>
<rect x="483" y="143.30" width="28.5" height="3.95" fill="#3a6050"/>
<rect x="483" y="147.20" width="28.5" height="3.95" fill="#1e3a62"/>
<rect x="483" y="151.10" width="28.5" height="3.95" fill="#1e3464"/>
<rect x="483" y="155.00" width="28.5" height="3.95" fill="#1e3466"/>
<rect x="483" y="158.90" width="28.5" height="3.95" fill="#243e60"/>
<rect x="483" y="162.80" width="28.5" height="3.95" fill="#1e2868"/>
<rect x="483" y="127.35" width="28.5" height="0.7" fill="#000" opacity="0.28"/>
<rect x="483" y="131.25" width="28.5" height="0.7" fill="#000" opacity="0.28"/>
<rect x="483" y="135.15" width="28.5" height="0.7" fill="#000" opacity="0.28"/>
<rect x="483" y="139.05" width="28.5" height="0.7" fill="#000" opacity="0.28"/>
<rect x="483" y="142.95" width="28.5" height="0.7" fill="#000" opacity="0.28"/>
<rect x="483" y="146.85" width="28.5" height="0.7" fill="#000" opacity="0.28"/>
<rect x="483" y="150.75" width="28.5" height="0.7" fill="#000" opacity="0.28"/>
<rect x="483" y="154.65" width="28.5" height="0.7" fill="#000" opacity="0.28"/>
<rect x="483" y="158.55" width="28.5" height="0.7" fill="#000" opacity="0.28"/>
<rect x="483" y="162.45" width="28.5" height="0.7" fill="#000" opacity="0.28"/>
<text x="402.6" y="126.725" font-size="2.8" text-anchor="end" font-weight="bold" fill="#1a1a1a"  style="stroke:none">#1</text>
<text x="402.6" y="130.625" font-size="2.8" text-anchor="end" font-weight="bold" fill="#1a1a1a"  style="stroke:none">#2</text>
<text x="402.6" y="134.525" font-size="2.8" text-anchor="end" font-weight="bold" fill="#1a1a1a"  style="stroke:none">#3</text>
<text x="402.6" y="138.425" font-size="2.8" text-anchor="end" font-weight="bold" fill="#1a1a1a"  style="stroke:none">#4</text>
<text x="402.6" y="142.32500000000002" font-size="2.8" text-anchor="end" font-weight="bold" fill="#1a1a1a"  style="stroke:none">#5</text>
<text x="402.6" y="146.22500000000002" font-size="2.8" text-anchor="end" font-weight="bold" fill="#1a1a1a"  style="stroke:none">#6</text>
<text x="402.6" y="150.125" font-size="2.8" text-anchor="end" font-weight="bold" fill="#1a1a1a"  style="stroke:none">#7</text>
<text x="402.6" y="154.025" font-size="2.8" text-anchor="end" font-weight="bold" fill="#1a1a1a"  style="stroke:none">#8</text>
<text x="402.6" y="157.925" font-size="2.8" text-anchor="end" font-weight="bold" fill="#1a1a1a"  style="stroke:none">#9</text>
<text x="402.6" y="161.82500000000002" font-size="2.8" text-anchor="end" font-weight="bold" fill="#1a1a1a"  style="stroke:none">#10</text>
<text x="402.6" y="165.72500000000002" font-size="2.8" text-anchor="end" font-weight="bold" fill="#1a1a1a"  style="stroke:none">#11</text>
<text x="386" y="128.3" font-size="5.6" text-anchor="start" font-weight="bold" fill="#111"  >CpG</text>
<text x="380" y="175.3" font-size="5.9" text-anchor="start" font-weight="normal" fill="#222"  >Average:</text>
<text x="417.8" y="176.4" font-size="8.2" text-anchor="middle" font-weight="normal" fill="#222"  >89.3%</text>
<text x="458.3" y="176.4" font-size="8.2" text-anchor="middle" font-weight="normal" fill="#222"  >91.5%</text>
<text x="496.6" y="176.4" font-size="8.2" text-anchor="middle" font-weight="normal" fill="#222"  >92.8%</text>
<text x="375.4" y="192" font-size="8.2" text-anchor="middle" font-weight="normal" fill="#111"  >% methylation</text>
<rect x="311.7" y="194.5" width="134.3" height="5.6" fill="url(#cbar)"/>
<text x="312.2" y="208.3" font-size="8.4" text-anchor="middle" font-weight="normal" fill="#111"  >100</text>
<text x="339.5" y="208.3" font-size="8.4" text-anchor="middle" font-weight="normal" fill="#111"  >80</text>
<text x="366.2" y="208.3" font-size="8.4" text-anchor="middle" font-weight="normal" fill="#111"  >60</text>
<text x="391.1" y="208.3" font-size="8.4" text-anchor="middle" font-weight="normal" fill="#111"  >40</text>
<text x="418.1" y="208.3" font-size="8.4" text-anchor="middle" font-weight="normal" fill="#111"  >20</text>
<text x="443.8" y="208.3" font-size="8.4" text-anchor="middle" font-weight="normal" fill="#111"  >0</text></g>
</svg>
</body></html>
